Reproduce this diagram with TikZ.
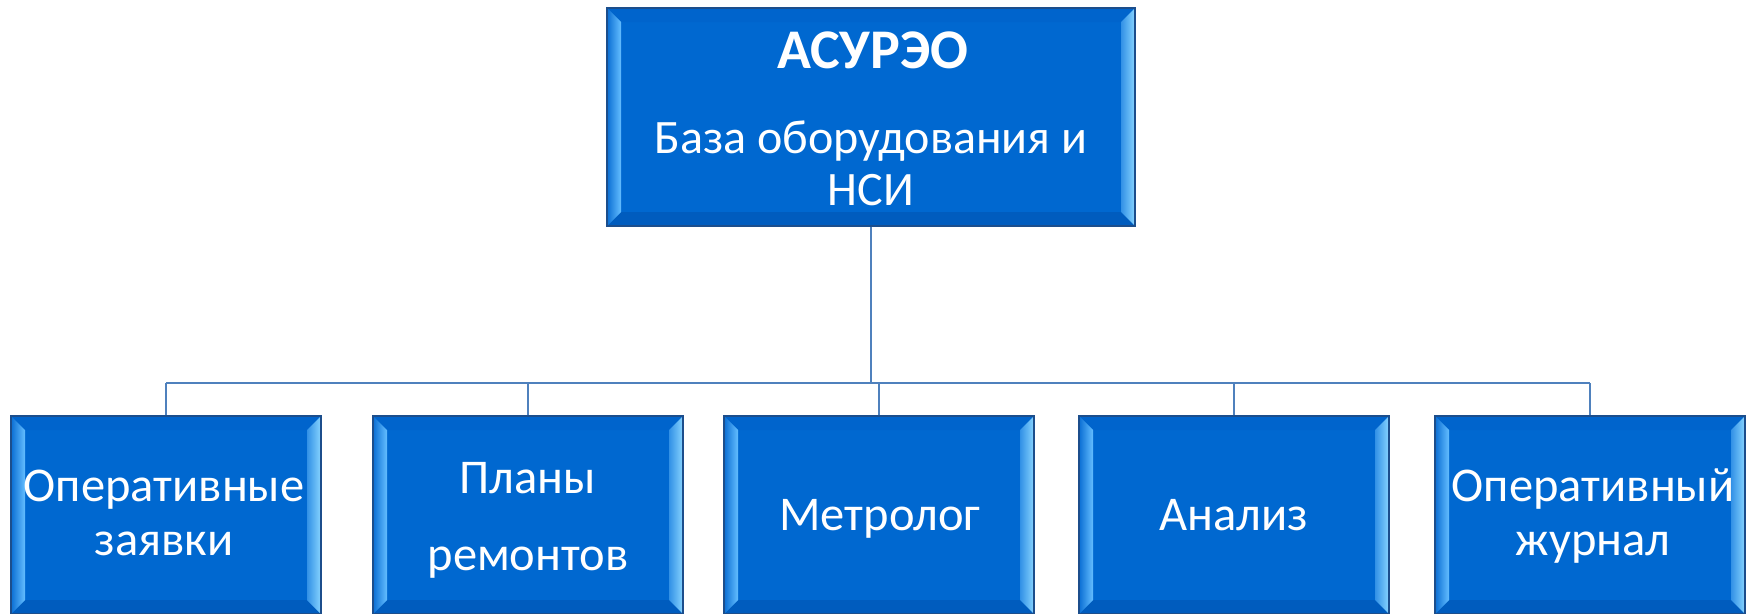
\documentclass[tikz,border=0pt]{standalone}
\usepackage{fontspec}
\setmainfont{Carlito}
\usetikzlibrary{calc}
\definecolor{boxblue}{RGB}{0,104,208}
\definecolor{boxedge}{RGB}{28,78,140}
\definecolor{bevtopc}{RGB}{0,100,204}
\definecolor{bevbotc}{RGB}{0,92,190}
\definecolor{bevlo}{RGB}{10,110,212}
\definecolor{bevli}{RGB}{100,190,255}
\definecolor{bevri}{RGB}{50,145,230}
\definecolor{bevro}{RGB}{135,212,255}
\definecolor{connc}{RGB}{79,129,189}
\tikzset{
  bevbox/.style={rectangle, draw=boxedge, line width=1.2pt, fill=boxblue, inner sep=0pt,
    path picture={
      \path (path picture bounding box.north west) coordinate (pw)
            (path picture bounding box.south east) coordinate (pe);
      \fill[bevtopc] (pw) -- (pe|-pw) -- ($(pe|-pw)+(-14,-14)$) -- ($(pw)+(14,-14)$) -- cycle;
      \fill[bevbotc] (pw|-pe) -- (pe) -- ($(pe)+(-14,14)$) -- ($(pw|-pe)+(14,14)$) -- cycle;
      \shade[left color=bevlo, right color=bevli] (pw) -- ($(pw)+(14,-14)$) -- ($(pw|-pe)+(14,14)$) -- (pw|-pe) -- cycle;
      \shade[left color=bevri, right color=bevro] (pe|-pw) -- ($(pe|-pw)+(-14,-14)$) -- ($(pe)+(-14,14)$) -- (pe) -- cycle;
    }},
  topbox/.style={bevbox, minimum width=528pt, minimum height=218pt},
  childbox/.style={bevbox, minimum width=310pt, minimum height=198pt},
  txt/.style={text=white, inner sep=0pt, anchor=base},
  bigtxt/.style={txt, font=\fontsize{48.5}{56}\selectfont},
  midtxt/.style={txt, font=\fontsize{48}{56}\selectfont},
  titletxt/.style={txt, font=\fontsize{56}{64}\selectfont\bfseries},
  conn/.style={draw=connc, line width=2.8pt}
}
\begin{document}
\begin{tikzpicture}[x=1pt,y=1pt]
\clip (0,0) rectangle (1752,-613);
\fill[white] (0,0) rectangle (1752,-613);

\node[topbox] (top) at (871,-117) {};
\node[childbox] (b1) at (166,-515) {};
\node[childbox] (b2) at (528,-515) {};
\node[childbox] (b3) at (879,-515) {};
\node[childbox] (b4) at (1234,-515) {};
\node[childbox] (b5) at (1590,-515) {};

\coordinate (hy) at (0,-383);
\draw[conn] (top.south) -- (top.south |- hy);
\draw[conn] (b1.north |- hy) -- (b5.north |- hy);
\foreach \b in {b1,b2,b3,b4,b5} \draw[conn] (\b.north) -- (\b.north |- hy);

\node[titletxt] (t0) at (873,-68) {АСУРЭО};
\node[midtxt] (t1) at (871,-153) {База оборудования и};
\node[midtxt] (t2) at (871,-205) {НСИ};

\node[bigtxt] (l1a) at (164,-501) {Оперативные};
\node[bigtxt] (l1b) at (164,-555) {заявки};
\node[bigtxt] (l2a) at (528,-493) {Планы};
\node[bigtxt] (l2b) at (528,-570) {ремонтов};
\node[bigtxt] (l3) at (880,-530) {Метролог};
\node[bigtxt] (l4) at (1234,-530) {Анализ};
\node[bigtxt] (l5a) at (1593,-501) {Оперативный};
\node[bigtxt] (l5b) at (1593,-555) {журнал};
\end{tikzpicture}
\end{document}
